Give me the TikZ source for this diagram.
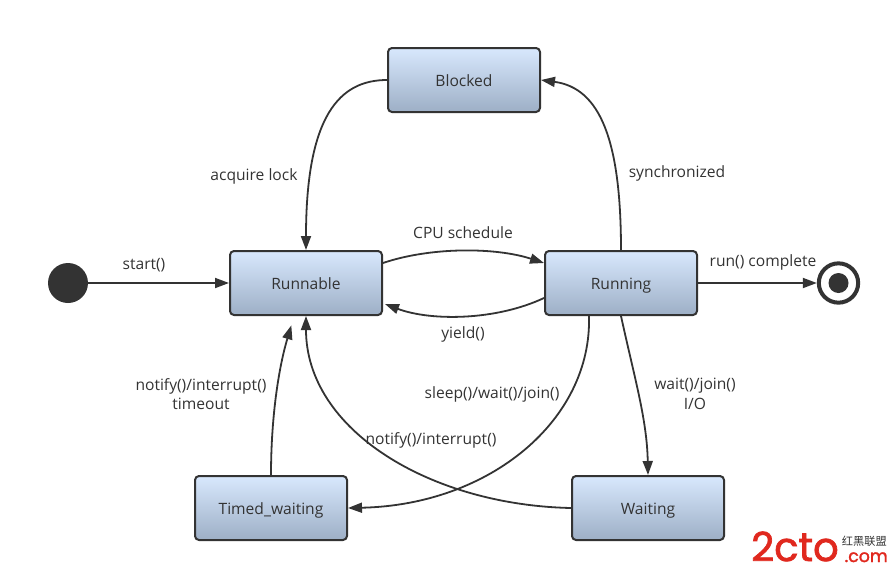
\documentclass[tikz,border=0pt]{standalone}
\usepackage{fontspec}
\setmainfont{Open Sans}
\newfontfamily\logofont[FakeBold=1.8]{Poppins}
\newfontfamily\cjkfont{Noto Sans CJK SC}
\usetikzlibrary{arrows.meta,calc}
\definecolor{ink}{HTML}{333333}
\definecolor{logored}{HTML}{E0281E}
\definecolor{boxtop}{HTML}{D8E8FD}
\definecolor{boxbot}{HTML}{9DAFC6}
\tikzset{
  px/.style={x=0.75pt,y=-0.75pt},
  statebox/.style={draw=ink,line width=1.5pt,rounded corners=3pt,minimum width=114pt,minimum height=48pt,
    top color=boxtop,bottom color=boxbot,text=ink,font=\fontsize{11.7}{14}\selectfont,inner sep=0pt,
    text height=10pt,text depth=1pt},
  lbl/.style={text=ink,font=\fontsize{11.7}{14.5}\selectfont,align=center,inner sep=0pt},
  arr/.style={draw=ink,line width=1.35pt,-{Triangle[length=10.5pt,width=7.5pt]}},
}
\begin{document}
\begin{tikzpicture}[px]
\useasboundingbox (0,0) rectangle (890,572);
\node[statebox] (blocked) at (464,80) {Blocked};
\node[statebox] (runnable) at (306,283) {Runnable};
\node[statebox] (running) at (621,283) {Running};
\node[statebox] (timed) at (271,508) {Timed\_waiting};
\node[statebox] (waiting) at (648,508) {Waiting};
\node[circle,fill=ink,minimum size=30pt,inner sep=0pt] (start) at (68,283) {};
\node[circle,draw=ink,line width=3pt,fill=white,minimum size=29.5pt,inner sep=0pt] (stop) at (838.5,283) {};
\node[circle,fill=ink,minimum size=15pt,inner sep=0pt] (stopdot) at (838.5,283) {};

\draw[arr] (start.east) -- (runnable.west);
\draw[arr] (running.east) -- (stop.west);
\draw[arr] (blocked.west) .. controls (340,80) and (306,115) .. (runnable.north);
\draw[arr] (running.north) .. controls (621,140) and (600,88) .. (blocked.east);
\draw[arr] ([yshift=15pt]runnable.east) .. controls (430,247) and (495,247) .. ([yshift=15pt]running.west);
\draw[arr] ([yshift=-11.25pt]running.west) .. controls (495,321) and (430,321) .. ([xshift=1.5pt,yshift=-15.75pt]runnable.east);
\draw[arr] ([xshift=-24pt]running.south) .. controls (592,420) and (490,505) .. (timed.east);
\draw[arr] (running.south) .. controls (635,380) and (647,420) .. (waiting.north);
\draw[arr] (waiting.west) .. controls (430,505) and (306,430) .. (runnable.south);
\draw[arr] (timed.north) .. controls (271,420) and (278,370) .. ([xshift=-11pt,yshift=-7pt]runnable.south);

\node[lbl] (l1) at (144,265) {start()};
\node[lbl] (l2) at (254,176) {acquire lock};
\node[lbl] (l3) at (677,173) {synchronized};
\node[lbl] (l4) at (463,233) {CPU schedule};
\node[lbl] (l5) at (463,334) {yield()};
\node[lbl] (l6) at (763,262) {run() complete};
\node[lbl] (l7) at (201,394) {notify()/interrupt()\\timeout};
\node[lbl] (l8) at (492,394) {sleep()/wait()/join()};
\node[lbl] (l9) at (695,394) {wait()/join()\\I/O};
\node[lbl] (l10) at (431,440) {notify()/interrupt()};

\node[inner sep=0pt,text=logored,font=\logofont\fontsize{30}{30}\selectfont,xscale=1.0,anchor=base west] (logo) at (751,561) {2cto};
\node[inner sep=0pt,text=logored,font=\logofont\fontsize{13}{14}\selectfont,anchor=base east] (logocom) at (888,562) {.com};
\node[inner sep=0pt,text=ink,font=\cjkfont\fontsize{8.4}{9}\selectfont,anchor=east] (logocn) at (887,541) {红黑联盟};
\end{tikzpicture}
\end{document}
